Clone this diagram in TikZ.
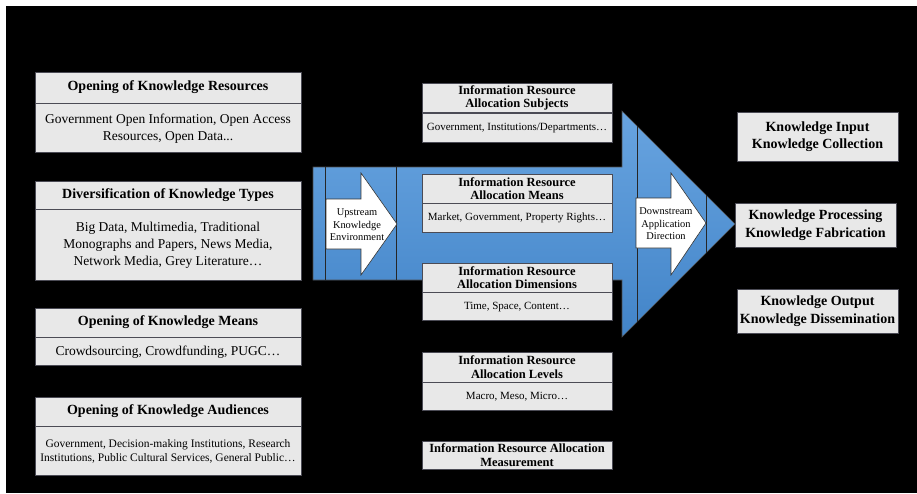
\documentclass[tikz,border=0pt]{standalone}
\usepackage{fontspec}
\setmainfont{Liberation Serif}
\usetikzlibrary{positioning}

\definecolor{boxgray}{RGB}{232,232,232}
\definecolor{edgegray}{RGB}{75,75,85}
\definecolor{flowtop}{RGB}{104,164,224}
\definecolor{flowbot}{RGB}{66,132,200}

\tikzset{
    box/.style={draw=edgegray, line width=0.8pt, fill=boxgray, text=black, inner sep=0pt, align=center},
    lhead/.style={box, minimum width=266pt, font=\fontsize{14}{16}\selectfont\bfseries},
    lbody/.style={box, minimum width=266pt, font=\fontsize{13.5}{17}\selectfont},
    mhead/.style={box, minimum width=190pt, minimum height=29pt, font=\fontsize{12.5}{13.5}\selectfont\bfseries},
    mbody/.style={box, minimum width=190pt, minimum height=29pt, font=\fontsize{11}{13}\selectfont},
    rbox/.style={box, minimum width=161pt, font=\fontsize{14}{17.5}\selectfont\bfseries},
    flowtext/.style={text=black, align=center, inner sep=0pt, font=\fontsize{10.4}{12.5}\selectfont},
    divline/.style={draw=black!85, line width=0.8pt},
    whitearrow/.style={fill=white, draw=black!80, line width=0.6pt}
}

\begin{document}
\begin{tikzpicture}[x=1pt, y=-1pt]

        % HINTERGRUND
        \useasboundingbox (0,0) rectangle (917,493);
        \fill[white] (0,0) rectangle (917,493);
        \fill[black] (6,6) rectangle (917,493);

        % BLAUER PFEIL
        \shade[top color=flowtop, bottom color=flowbot, draw=black!70, line width=0.6pt]
            (313,167) -- (622,167) -- (622,111) -- (735,224) -- (622,337) -- (622,280) -- (313,280) -- cycle;
        \draw[divline] (325,167) -- (325,280);
        \draw[divline] (396,167) -- (396,280);
        \draw[divline] (637,126) -- (637,322);
        \draw[divline] (706,195) -- (706,253);

        % Weisse Pfeile
        \filldraw[whitearrow] (326,199) -- (361,199) -- (361,173) -- (397,224) -- (361,275) -- (361,249) -- (326,249) -- cycle;
        \filldraw[whitearrow] (636,198) -- (671,198) -- (671,173) -- (706,223) -- (671,275) -- (671,248) -- (636,248) -- cycle;
        \node[flowtext] (upT) at (357,225) {Upstream\\Knowledge\\Environment};
        \node[flowtext] (downT) at (666,224) {Downstream\\Application\\Direction};

        % LINKE SPALTE
        \node[lhead, minimum height=31pt] (resH) at (168,87.5) {Opening of Knowledge Resources};
        \node[lbody, minimum height=49pt, below=0pt of resH] (resB) {Government Open Information, Open Access\\Resources, Open Data...};
        \node[lhead, minimum height=28pt] (typH) at (168,195) {Diversification of Knowledge Types};
        \node[lbody, minimum height=71pt, below=0pt of typH] (typB) {Big Data, Multimedia, Traditional\\Monographs and Papers, News Media,\\Network Media, Grey Literature…};
        \node[lhead, minimum height=29pt] (meaH) at (168,322.5) {Opening of Knowledge Means};
        \node[lbody, minimum height=28pt, below=0pt of meaH] (meaB) {Crowdsourcing, Crowdfunding, PUGC…};
        \node[lhead, minimum height=29pt] (audH) at (168,411.5) {Opening of Knowledge Audiences};
        \node[lbody, minimum height=49pt, below=0pt of audH, font=\fontsize{11.5}{14.5}\selectfont] (audB) {Government, Decision-making Institutions, Research\\Institutions, Public Cultural Services, General Public…};

        % MITTLERE SPALTE
        \node[mhead] (subH) at (517,98) {Information Resource\\Allocation Subjects};
        \node[mbody, below=0pt of subH] (subB) {Government, Institutions/Departments…};
        \node[mhead] (mnsH) at (517,188.5) {Information Resource\\Allocation Means};
        \node[mbody, below=0pt of mnsH] (mnsB) {Market, Government, Property Rights…};
        \node[mhead] (dimH) at (517,277.5) {Information Resource\\Allocation Dimensions};
        \node[mbody, minimum height=28pt, below=0pt of dimH] (dimB) {Time, Space, Content…};
        \node[mhead, minimum height=30pt] (lvlH) at (517,367) {Information Resource\\Allocation Levels};
        \node[mbody, minimum height=28pt, below=0pt of lvlH] (lvlB) {Macro, Meso, Micro…};
        \node[mhead, minimum height=28pt] (msrH) at (517,455) {Information Resource Allocation\\Measurement};

        % RECHTE SPALTE
        \node[rbox, minimum height=49pt] (inpB) at (817.5,136.5) {Knowledge Input\\Knowledge Collection};
        \node[rbox, minimum height=44pt] (proB) at (815.5,225) {Knowledge Processing\\Knowledge Fabrication};
        \node[rbox, minimum height=44pt] (outB) at (817.5,311) {Knowledge Output\\Knowledge Dissemination};
\end{tikzpicture}
\end{document}
